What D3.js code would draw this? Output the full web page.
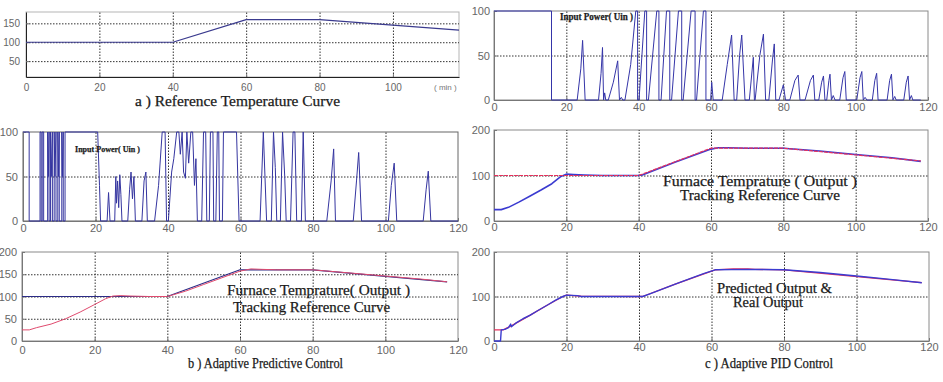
<!DOCTYPE html>
<html>
<head>
<meta charset="utf-8">
<script src="https://cdn.jsdelivr.net/npm/d3@7"></script>
<style>
  body { margin: 0; background: #fff; }
  svg { display: block; }
  .tick text { font-family: "Liberation Sans Narrow", "Liberation Sans", Arial, sans-serif; font-size: 11px; fill: #666; }
  .serif { font-family: "Liberation Serif", "Times New Roman", serif; fill: #1a1a1a; stroke: #1a1a1a; stroke-width: 0.25; }
</style>
</head>
<body>
<svg id="fig" width="943" height="382"></svg>
<script>
// reference temperature profile (min, degC)
const refCurve = [[0, 100], [40, 100], [60, 160], [80, 160], [118, 132]]

// adaptive predictive control: furnace output
const outPredictive = [
  [0, 25], [2, 25], [4, 30], [8, 38], [12, 50], [16, 65], [20, 82], [23, 95], [25, 101], [27, 102],
  [30, 101], [35, 100], [40, 100], [45, 112], [50, 127], [55, 142], [60, 157], [63, 162], [66, 161],
  [70, 160], [80, 160], [90, 153], [100, 146], [110, 139], [117, 133]
]

// adaptive PID control: furnace output
const outPID = [
  [0, 25], [2, 25], [4, 30], [7, 42], [10, 55], [13, 68], [16, 82], [18.5, 98], [20, 103], [22, 102],
  [25, 101], [30, 100], [40, 100], [41, 101], [50, 129], [60, 158], [62, 161], [65, 161], [70, 160],
  [80, 160], [90, 154], [100, 146], [110, 139], [118, 131]
]

// adaptive PID control: predicted output and real output
const predictedPID = [
  [0, 0], [1.8, 0], [2, 25], [3, 26], [4, 30], [4.6, 38], [4.8, 32], [6, 40], [8, 50], [10, 58],
  [12, 68], [15, 82], [17, 92], [19, 100], [20, 103], [23, 102], [24, 100], [41, 100], [43, 106],
  [50, 128], [55, 143], [58, 152], [61, 160], [70, 161], [80, 160], [90, 154], [100, 146], [110, 138], [118, 131]
]
const realPID = [
  [0, 25], [2.5, 25], [5, 35], [10, 58], [15, 82], [19, 100], [20, 103], [24, 101], [41, 100],
  [50, 128], [61, 160], [66, 162], [70, 162], [72, 161], [80, 160], [118, 131]
]

// input power (Uin, %) under adaptive predictive control
const uinPredictive = [
  [0, 100], [1.7, 100], [1.7, 0], [4.7, 0], [4.7, 100], [5.0, 100], [5.0, 0], [5.3, 0], [5.3, 100], [5.7, 100],
  [5.7, 0], [6.8, 0], [6.8, 100], [7.0, 50], [7.2, 100], [7.2, 0], [7.6, 0], [7.6, 100], [7.8, 50], [8.1, 100],
  [8.1, 0], [8.6, 0], [8.6, 100], [8.8, 50], [9.1, 100], [9.1, 0], [9.6, 0], [9.6, 100], [9.8, 50], [10.0, 100],
  [10.0, 0], [10.7, 0], [10.7, 100], [10.9, 50], [11.1, 100], [11.1, 0], [11.6, 0], [11.6, 100],
  [20.6, 100], [21.1, 40], [21.4, 0], [23.2, 0], [23.6, 32], [24.0, 0], [25.3, 0], [25.6, 50], [25.8, 20],
  [26.1, 45], [26.4, 15], [26.7, 52], [27.0, 30], [27.3, 0], [28.9, 0], [29.4, 35], [29.8, 55], [30.2, 25],
  [30.6, 50], [31.0, 0], [32.8, 0], [33.4, 45], [33.9, 55], [34.3, 0], [36.3, 0], [37.4, 40], [38.4, 100],
  [39.2, 100], [39.6, 0], [40.1, 0], [41.0, 55], [41.6, 70], [42.4, 100], [43.0, 100], [43.4, 75], [43.9, 100],
  [44.3, 55], [44.8, 48], [45.2, 100], [45.7, 65], [46.3, 100], [46.8, 100], [47.3, 40], [47.7, 70], [48.1, 0],
  [49.3, 0], [49.8, 100], [50.4, 100], [50.7, 0], [51.4, 0], [51.7, 100], [52.4, 100], [52.6, 0], [53.2, 0],
  [53.6, 100], [54.0, 100], [54.2, 0], [55.0, 0], [55.3, 100], [58.9, 100], [59.6, 0], [65.4, 0], [66.3, 100],
  [67.2, 0], [68.5, 0], [69.1, 100], [69.6, 60], [70.0, 0], [71.0, 0], [71.6, 100], [72.2, 50], [72.6, 0],
  [73.8, 0], [74.5, 100], [75.0, 100], [75.5, 0], [76.8, 0], [77.3, 100], [77.9, 0], [83.8, 0], [85.0, 45],
  [85.7, 81], [86.2, 0], [91.1, 0], [92.0, 45], [92.6, 77], [93.4, 0], [100.8, 0], [101.6, 40], [102.4, 65],
  [103.1, 0], [110.4, 0], [111.2, 35], [111.8, 56], [112.5, 0], [120, 0]
]

// input power (Uin, %) under adaptive PID control
const uinPID = [
  [0, 100], [15.9, 100], [15.9, 0], [23.0, 0], [24.0, 35], [24.5, 67], [25.2, 0], [28.9, 0], [29.6, 30],
  [30.0, 59], [30.3, 0], [30.6, 8], [30.9, 0], [31.6, 0], [33.0, 20], [34.2, 44], [34.7, 0], [35.2, 3],
  [35.6, 0], [36.2, 0], [37.8, 40], [39.2, 100], [39.7, 100], [39.7, 0], [40.1, 0], [41.7, 100], [42.2, 100],
  [42.2, 0], [42.7, 0], [45.0, 100], [45.6, 100], [45.6, 0], [46.2, 0], [47.7, 100], [48.6, 100], [48.6, 0],
  [49.1, 0], [51.0, 100], [51.9, 100], [51.9, 0], [52.3, 0], [54.5, 100], [55.6, 100], [55.6, 0], [56.0, 0],
  [57.9, 100], [58.6, 100], [58.6, 0], [59.9, 0], [60.2, 20], [60.6, 0], [63.1, 0], [64.5, 40], [65.7, 73],
  [66.4, 0], [67.1, 0], [67.9, 50], [68.5, 73], [69.4, 0], [70.6, 0], [71.7, 48], [72.0, 0], [72.2, 0],
  [73.5, 50], [74.5, 74], [75.1, 0], [76.0, 0], [77.0, 45], [77.5, 63], [77.9, 0], [78.8, 0], [80.0, 17],
  [80.6, 0], [81.8, 0], [83.2, 22], [84.1, 28], [84.6, 0], [86.0, 0], [87.5, 22], [88.3, 28], [88.7, 0],
  [89.8, 0], [90.6, 20], [91.1, 27], [91.5, 0], [92.0, 0], [92.6, 22], [92.9, 29], [93.3, 0], [93.8, 5],
  [94.3, 0], [95.6, 0], [96.5, 25], [97.0, 32], [97.4, 0], [100.3, 0], [101.2, 25], [101.7, 32], [102.1, 0],
  [102.6, 3], [103.1, 0], [104.6, 0], [105.3, 22], [105.8, 30], [106.2, 0], [108.7, 0], [109.4, 22],
  [109.9, 29], [110.3, 0], [110.8, 4], [111.2, 0], [113.3, 0], [114.0, 20], [114.5, 27], [114.9, 0],
  [115.4, 5], [115.8, 0], [118, 0]
]

const xTicks = [0, 20, 40, 60, 80, 100, 120]
const xGrid = [20, 40, 60, 80, 100]

const svg = d3.select('#fig')
svg.append('rect').attr('width', 943).attr('height', 382).attr('fill', '#fff')

const panel = (o) => {
  const x = d3.scaleLinear().domain(o.xDomain).range([o.x0, o.x1])
  const y = d3.scaleLinear().domain(o.yDomain).range([o.y1, o.y0])
  const g = svg.append('g')
  const h = o.y1 - o.y0
  const w = o.x1 - o.x0

  g.append('rect')
    .attr('x', o.x0).attr('y', o.y0).attr('width', w).attr('height', h)
    .attr('fill', '#fff').attr('stroke', o.frame || '#8a8a8a').attr('stroke-width', 1)

  // dotted grid
  g.append('g')
    .attr('transform', `translate(0,${o.y1})`)
    .call(d3.axisBottom(x).tickValues(o.xGrid).tickSize(-h).tickFormat(''))
    .call((s) => s.select('.domain').remove())
    .selectAll('line').attr('stroke', '#333').attr('stroke-dasharray', '1.5,1.5')
  g.append('g')
    .attr('transform', `translate(${o.x0},0)`)
    .call(d3.axisLeft(y).tickValues(o.yGrid).tickSize(-w).tickFormat(''))
    .call((s) => s.select('.domain').remove())
    .selectAll('line').attr('stroke', '#333').attr('stroke-dasharray', '1.5,1.5')

  // axes with inward ticks
  const xa = g.append('g')
    .attr('transform', `translate(0,${o.y1})`)
    .call(d3.axisBottom(x).tickValues(o.xTicks).tickSizeInner(-3).tickSizeOuter(0).tickPadding(o.xPad))
  const ya = g.append('g')
    .attr('transform', `translate(${o.x0},0)`)
    .call(d3.axisLeft(y).tickValues(o.yTicks).tickSizeInner(-3).tickSizeOuter(0).tickPadding(o.yPad))
  ;[xa, ya].forEach((a) => {
    a.select('.domain').attr('stroke', o.axis || '#777')
    a.selectAll('.tick line').attr('stroke', '#777')
  })
  if (o.fontSize) g.selectAll('.tick text').style('font-size', o.fontSize + 'px')
  return { x, y, g }
}

const drawLine = (p, data, color, width, dash) => {
  const line = d3.line().x((d) => p.x(d[0])).y((d) => p.y(d[1]))
  p.g.append('path')
    .datum(data)
    .attr('d', line)
    .attr('fill', 'none')
    .attr('stroke', color)
    .attr('stroke-width', width)
    .attr('stroke-linejoin', 'round')
    .attr('stroke-dasharray', dash || null)
}

const label = (txt, x, y, size, len, bold) => {
  svg.append('text')
    .attr('class', 'serif')
    .attr('x', x).attr('y', y)
    .attr('font-size', size)
    .attr('font-weight', bold ? 'bold' : 'normal')
    .attr('textLength', len)
    .attr('lengthAdjust', 'spacingAndGlyphs')
    .text(txt)
}

// a) reference temperature curve
const pa = panel({
  x0: 26, x1: 459, y0: 12, y1: 77, xDomain: [0, 118], yDomain: [8, 180],
  xTicks: [0, 20, 40, 60, 80, 100], yTicks: [50, 100, 150], xGrid, yGrid: [50, 100, 150],
  xPad: 7, yPad: 6, frame: '#b5b5b5', axis: '#222', fontSize: 10
})
drawLine(pa, refCurve, '#3a3a8e', 1.2)
svg.append('text')
  .attr('x', 434).attr('y', 90)
  .attr('font-family', 'Liberation Sans, Arial, sans-serif')
  .attr('font-size', 8).attr('fill', '#777')
  .text('( min )')
label('a ) Reference Temperature Curve', 135, 106, 15, 205)

// b) adaptive predictive control: input power
const pb1 = panel({
  x0: 23, x1: 458, y0: 132, y1: 221, xDomain: [0, 120], yDomain: [0, 100],
  xTicks, yTicks: [0, 50, 100], xGrid, yGrid: [50],
  xPad: 3, yPad: 5, frame: '#666'
})
drawLine(pb1, uinPredictive, '#3535a0', 1)
label('Input Power( Uin )', 75, 152, 9, 65, true)

// b) adaptive predictive control: output tracking
const pb2 = panel({
  x0: 22, x1: 458, y0: 252, y1: 341, xDomain: [0, 120], yDomain: [0, 200],
  xTicks, yTicks: [0, 50, 100, 150, 200], xGrid, yGrid: [50, 100, 150],
  xPad: 5, yPad: 5
})
drawLine(pb2, refCurve.map((d) => [Math.min(d[0], 117), d[0] > 117 ? 133 : d[1]]), '#2c2c86', 1.2)
drawLine(pb2, outPredictive, '#e04a6e', 1, null)
label('Furnace Temprature( Output )', 227, 295, 15, 183)
label('Tracking Reference Curve', 233, 312, 15, 157)
label('b ) Adaptive Predictive Control', 188, 368, 14, 155)

// c) adaptive PID control: input power
const pc1 = panel({
  x0: 494, x1: 928, y0: 11, y1: 100, xDomain: [0, 120], yDomain: [0, 100],
  xTicks, yTicks: [0, 50, 100], xGrid, yGrid: [50],
  xPad: 3, yPad: 4
})
drawLine(pc1, uinPID, '#3535a8', 1)
label('Input Power( Uin )', 560, 20, 10, 73, true)

// c) adaptive PID control: output tracking
const pc2 = panel({
  x0: 494, x1: 928, y0: 130, y1: 221, xDomain: [0, 120], yDomain: [0, 200],
  xTicks, yTicks: [0, 100, 200], xGrid, yGrid: [100],
  xPad: 2, yPad: 4
})
drawLine(pc2, outPID, '#3b3bd0', 1.6)
drawLine(pc2, refCurve, '#e6305c', 1.2, '4,1')
label('Furnace Temprature ( Output )', 663, 186, 14, 194)
label('Tracking Reference Curve', 680, 200, 14, 160)

// c) adaptive PID control: predicted vs real output
const pc3 = panel({
  x0: 494, x1: 929, y0: 252, y1: 341, xDomain: [0, 120], yDomain: [0, 200],
  xTicks, yTicks: [0, 100, 200], xGrid, yGrid: [100],
  xPad: 2, yPad: 4
})
drawLine(pc3, realPID, '#e6305c', 1.3)
drawLine(pc3, predictedPID, '#3b3bd0', 1.4)
label('Predicted Output &', 717, 293, 14, 115)
label('Real Output', 733, 307, 14, 70)
label('c ) Adaptive PID Control', 705, 368, 14, 128)
</script>
</body>
</html>
